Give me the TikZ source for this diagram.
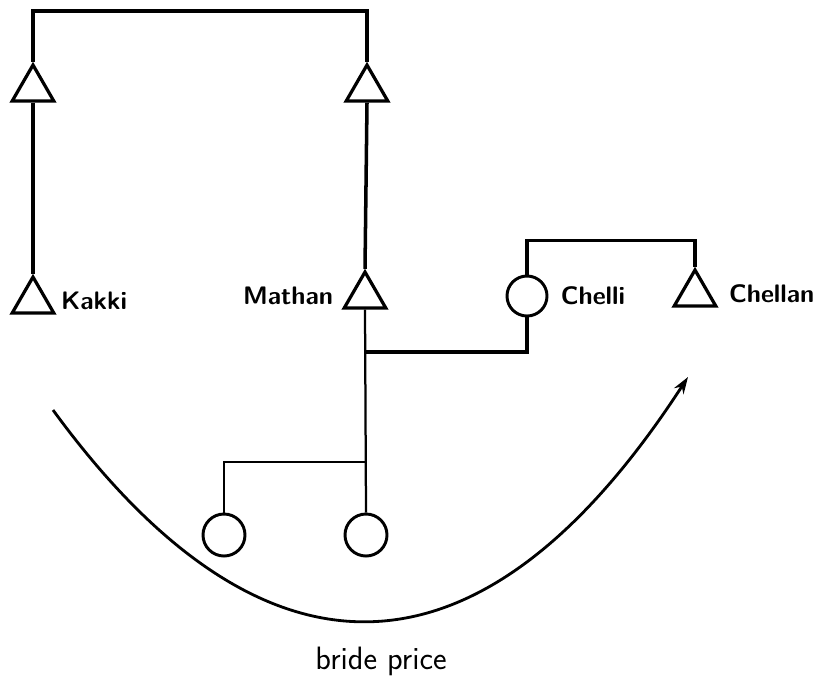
\documentclass[tikz,border=0pt]{standalone}
\usepackage{tikz}
\usetikzlibrary{arrows.meta, positioning, shapes, calc}

\begin{document}
\begin{tikzpicture}[x=0.025cm, y=-0.025cm,
        >=Stealth,
        male/.style={draw, regular polygon, regular polygon sides=3, minimum size=1.2cm, inner sep=0pt, line width=2.3pt},
        female/.style={draw, circle, minimum size=1.0cm, inner sep=0pt, line width=2.1pt},
        lbl/.style={font=\sffamily\bfseries\fontsize{18}{21}\selectfont, inner sep=0pt},
        kin/.style={line width=2.5pt},
        desc/.style={line width=1.6pt},
    ]
    \useasboundingbox (0,0) rectangle (827,680);
    % Parents' generation
    \node[male] (topL) at (33, 89) {};
    \node[male] (topR) at (367, 89) {};
    \draw[kin] (topL.north) -- ++(0,-51) -| (topR.north);
    % Kakki and Mathan
    \node[male] (kakki) at (33, 301) {};
    \node[lbl, right=0.3cm of kakki] {Kakki};
    \node[male] (mathan) at (365, 296) {};
    \node[lbl, left=0.4cm of mathan] {Mathan};
    \draw[kin] (topL.south) -- (kakki.north);
    \draw[kin] (topR.south) -- (mathan.north);
    % Chelli and Chellan
    \node[female] (chelli) at (527, 296) {};
    \node[lbl, right=0.3cm of chelli] {Chelli};
    \node[male] (chellan) at (695, 294) {};
    \node[lbl, right=0.45cm of chellan] {Chellan};
    \draw[kin] (chelli.north) -- ++(0,-34) -| (chellan.north);
    % Marriage and daughters
    \coordinate (marr) at (365, 352);
    \coordinate (sibs) at (365, 462);
    \node[female, minimum size=1.05cm] (dauL) at (224, 535) {};
    \node[female, minimum size=1.05cm] (dauR) at (366, 535) {};
    \draw[kin] (chelli.south) |- (marr);
    \draw[desc] (mathan.south) -- (dauR.north);
    \draw[desc] (dauL.north) |- (sibs);
    % Bride price
    \coordinate (bpstart) at (53, 410);
    \coordinate (bpend) at (688, 377);
    \draw[->, line width=2pt, >={Stealth[length=12pt, width=8pt]}] (bpstart) .. controls (250, 680) and (470, 713) .. (bpend);
    \node[font=\sffamily\fontsize{23}{26}\selectfont] (bp) at (381, 661) {bride price};
\end{tikzpicture}
\end{document}
